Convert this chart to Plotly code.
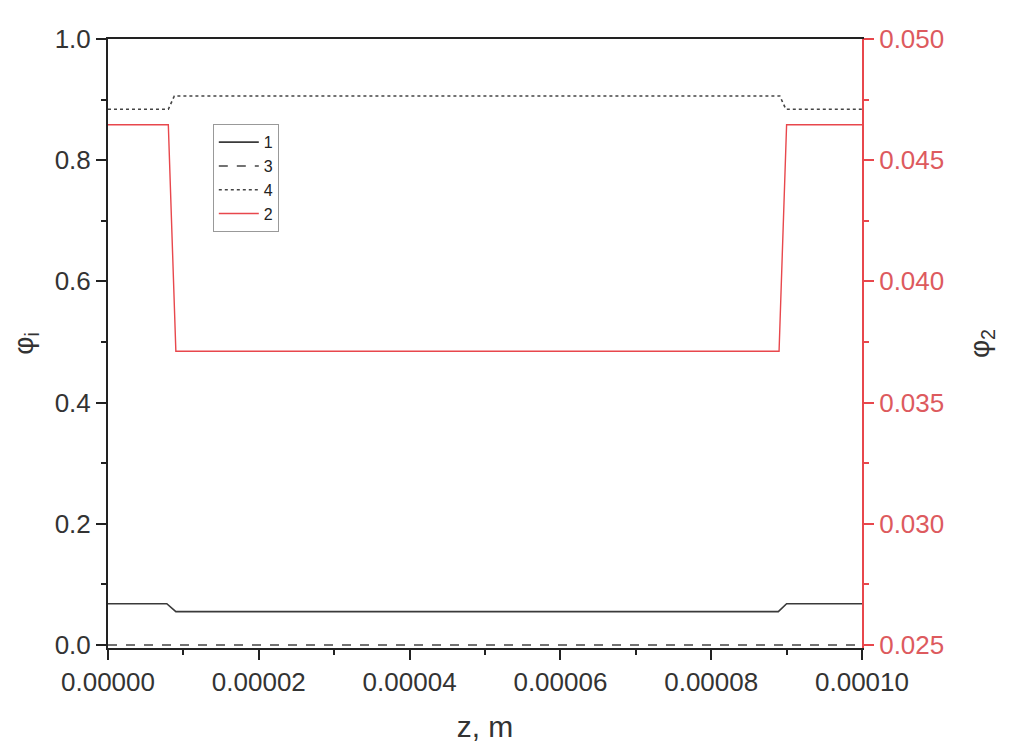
import plotly.graph_objects as go

# Data
z1 = [0.0, 0.0000078, 0.0000090, 0.0000889, 0.0000900, 0.0001]
phi1 = [0.068, 0.068, 0.055, 0.055, 0.068, 0.068]

z3 = [0.0, 0.00005, 0.0001]
phi3 = [0.0, 0.0, 0.0]

z4 = [0.0, 0.0000080, 0.0000088, 0.0000891, 0.0000899, 0.0001]
phi4 = [0.884, 0.884, 0.906, 0.906, 0.884, 0.884]

z2 = [0.0, 0.0000080, 0.0000090, 0.0000890, 0.0000900, 0.0001]
phi2 = [0.04646, 0.04646, 0.03712, 0.03712, 0.04646, 0.04646]

names = ["1", "3", "4", "2"]

FONT = "Liberation Sans, Arial, sans-serif"
RED = "#e8474c"
RED_TXT = "#dd5a5e"
DARK = "#222222"
TXT = "#333333"

fig = go.Figure()
fig.add_trace(go.Scatter(x=z1, y=phi1, mode="lines", name=names[0], legendgroup="a",
                         line=dict(color="#3a3a3a", width=1.6)))
fig.add_trace(go.Scatter(x=z3, y=phi3, mode="lines", name=names[1], legendgroup="b",
                         line=dict(color="#444444", width=1.6, dash="dash")))
fig.add_trace(go.Scatter(x=z4, y=phi4, mode="lines", name=names[2], legendgroup="c",
                         line=dict(color="#444444", width=1.6, dash="dot")))
fig.add_trace(go.Scatter(x=z2, y=phi2, mode="lines", name=names[3], legendgroup="d",
                         line=dict(color=RED, width=1.4), yaxis="y2"))

fig.update_layout(
    width=1002, height=746,
    margin=dict(l=100, r=148, t=31, b=106),
    plot_bgcolor="white", paper_bgcolor="white",
    font=dict(family=FONT, size=26, color=DARK),
    showlegend=True,
    legend=dict(x=0.139, y=0.86, xanchor="left", yanchor="top",
                bgcolor="white", bordercolor="#999999", borderwidth=1,
                font=dict(size=16, color=DARK), tracegroupgap=0,
                itemwidth=40),
    xaxis=dict(range=[0, 0.0001], dtick=0.00002, tick0=0, tickformat=".5f",
               showgrid=False, zeroline=False,
               showline=True, linecolor=DARK, linewidth=2, mirror=True,
               ticks="outside", ticklen=10, tickwidth=2, tickcolor=DARK,
               minor=dict(ticks="outside", ticklen=5, dtick=0.00001, tickcolor=DARK, tickwidth=2),
               tickfont=dict(size=26, color=TXT),
               title=dict(text="z, m", font=dict(size=30, color=TXT), standoff=20),
               automargin=False),
    yaxis=dict(range=[-0.005, 1.0], dtick=0.2, tick0=0, tickformat=".1f",
               showgrid=False, zeroline=False,
               showline=True, linecolor=DARK, linewidth=2,
               ticks="outside", ticklen=10, tickwidth=2, tickcolor=DARK,
               minor=dict(ticks="outside", ticklen=5, dtick=0.1, tickcolor=DARK, tickwidth=2),
               tickfont=dict(size=26, color=TXT),
               title=dict(text="φ<sub>i</sub>", font=dict(size=28, color=TXT), standoff=28),
               automargin=False),
    yaxis2=dict(range=[0.024875, 0.050], dtick=0.005, tick0=0.025, tickformat=".3f",
                overlaying="y", side="right", anchor="x",
                showgrid=False, zeroline=False,
                showline=True, linecolor=RED, linewidth=2,
                ticks="outside", ticklen=10, tickwidth=2, tickcolor=RED,
                minor=dict(ticks="outside", ticklen=5, dtick=0.0025, tickcolor=RED, tickwidth=2),
                tickfont=dict(size=26, color=RED_TXT),
                title=dict(text="φ<sub>2</sub>", font=dict(size=28, color=TXT), standoff=26),
                automargin=False),
)

fig.write_html("out.html")
